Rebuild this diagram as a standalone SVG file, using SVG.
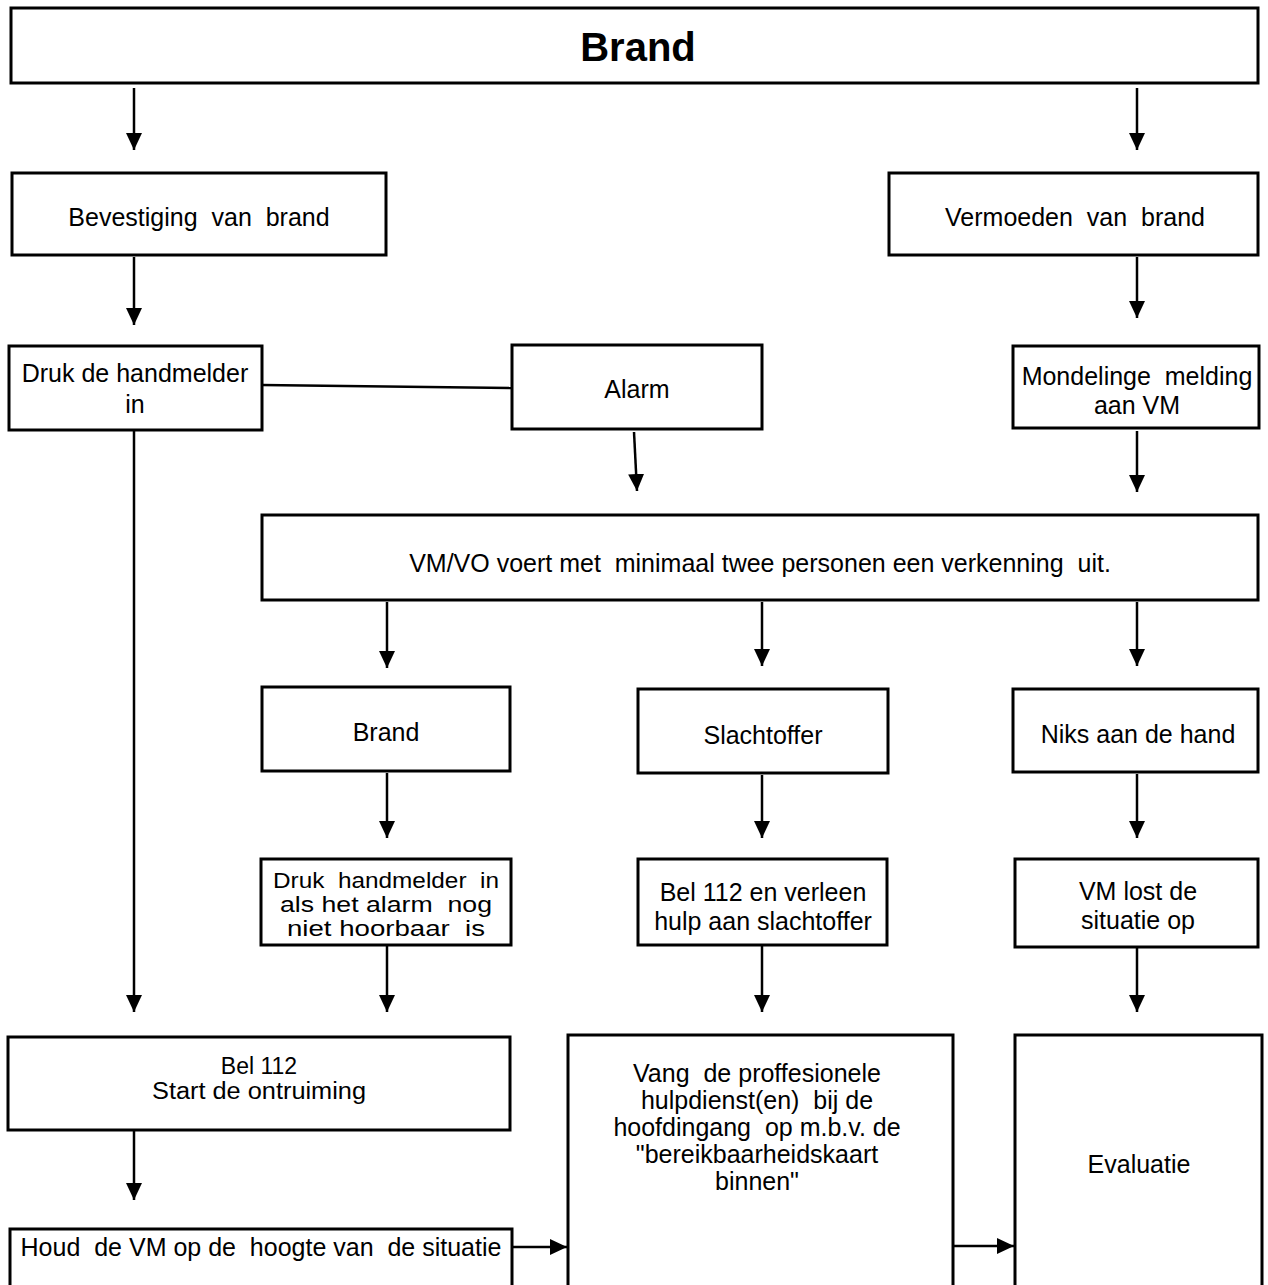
<svg xmlns="http://www.w3.org/2000/svg" width="1268" height="1285" viewBox="0 0 1268 1285">
<style>
.box{fill:#fff;stroke:#000;stroke-width:3}
.t{font-family:"Liberation Sans",Arial,sans-serif;font-size:25px;fill:#000;text-anchor:middle;white-space:pre}
.s{font-size:22px}
.m{font-size:23px}
.b{font-weight:bold;font-size:40px}
.c{stroke:#000;stroke-width:2.5;fill:none}
.a{marker-end:url(#ah)}
</style>
<defs>
<marker id="ah" markerUnits="userSpaceOnUse" markerWidth="17" markerHeight="16" refX="17" refY="8" orient="auto">
<path d="M0,0 L17,8 L0,16 z" fill="#000"/>
</marker>
</defs>
<rect width="1268" height="1285" fill="#fff"/>
<g id="connectors">
<line class="c a" x1="134" y1="88" x2="134" y2="150"/>
<line class="c a" x1="1137" y1="88" x2="1137" y2="150"/>
<line class="c a" x1="134" y1="257" x2="134" y2="325"/>
<line class="c a" x1="1137" y1="257" x2="1137" y2="318"/>
<line class="c" x1="262" y1="385" x2="512" y2="388"/>
<line class="c a" x1="634" y1="432" x2="637" y2="491"/>
<line class="c a" x1="1137" y1="431" x2="1137" y2="492"/>
<line class="c a" x1="134" y1="431" x2="134" y2="1012"/>
<line class="c a" x1="387" y1="602" x2="387" y2="668"/>
<line class="c a" x1="762" y1="602" x2="762" y2="666"/>
<line class="c a" x1="1137" y1="602" x2="1137" y2="666"/>
<line class="c a" x1="387" y1="773" x2="387" y2="838"/>
<line class="c a" x1="762" y1="775" x2="762" y2="838"/>
<line class="c a" x1="1137" y1="774" x2="1137" y2="838"/>
<line class="c a" x1="387" y1="946" x2="387" y2="1012"/>
<line class="c a" x1="762" y1="946" x2="762" y2="1012"/>
<line class="c a" x1="1137" y1="948" x2="1137" y2="1012"/>
<line class="c a" x1="134" y1="1131" x2="134" y2="1200"/>
<line class="c a" x1="512" y1="1247" x2="567" y2="1247"/>
<line class="c a" x1="953" y1="1246" x2="1014" y2="1246"/>
</g>
<g id="n-brand-top"><rect class="box" x="11" y="8" width="1247" height="75"/><text class="t b" x="638" y="61">Brand</text></g>
<g id="n-bevestiging"><rect class="box" x="12" y="173" width="374" height="82"/><text class="t" x="199" y="226">Bevestiging  van  brand</text></g>
<g id="n-vermoeden"><rect class="box" x="889" y="173" width="369" height="82"/><text class="t" x="1075" y="226">Vermoeden  van  brand</text></g>
<g id="n-druk"><rect class="box" x="9" y="346" width="253" height="84"/><text class="t" x="135" y="382">Druk de handmelder</text><text class="t" x="135" y="413">in</text></g>
<g id="n-alarm"><rect class="box" x="512" y="345" width="250" height="84"/><text class="t" x="637" y="398">Alarm</text></g>
<g id="n-mondeling"><rect class="box" x="1013" y="346" width="246" height="82"/><text class="t" x="1137" y="385">Mondelinge  melding</text><text class="t" x="1137" y="414">aan VM</text></g>
<g id="n-verkenning"><rect class="box" x="262" y="515" width="996" height="85"/><text class="t" x="760" y="572">VM/VO voert met  minimaal twee personen een verkenning  uit.</text></g>
<g id="n-brand"><rect class="box" x="262" y="687" width="248" height="84"/><text class="t" x="386" y="741">Brand</text></g>
<g id="n-slachtoffer"><rect class="box" x="638" y="689" width="250" height="84"/><text class="t" x="763" y="744">Slachtoffer</text></g>
<g id="n-niks"><rect class="box" x="1013" y="689" width="245" height="83"/><text class="t" x="1138" y="743">Niks aan de hand</text></g>
<g id="n-drukhm"><rect class="box" x="261" y="859" width="250" height="86"/><text class="t s" x="386" y="888" textLength="226" lengthAdjust="spacingAndGlyphs">Druk  handmelder  in</text><text class="t s" x="386" y="912" textLength="212" lengthAdjust="spacingAndGlyphs">als het alarm  nog</text><text class="t s" x="386" y="936" textLength="198" lengthAdjust="spacingAndGlyphs">niet hoorbaar  is</text></g>
<g id="n-bel112hulp"><rect class="box" x="638" y="859" width="249" height="86"/><text class="t" x="763" y="901">Bel 112 en verleen</text><text class="t" x="763" y="930">hulp aan slachtoffer</text></g>
<g id="n-vmlost"><rect class="box" x="1015" y="859" width="243" height="88"/><text class="t" x="1138" y="900">VM lost de</text><text class="t" x="1138" y="929">situatie op</text></g>
<g id="n-bel112start"><rect class="box" x="8" y="1037" width="502" height="93"/><text class="t m" x="259" y="1074">Bel 112</text><text class="t m" x="259" y="1099" textLength="214" lengthAdjust="spacingAndGlyphs">Start de ontruiming</text></g>
<g id="n-houd"><rect class="box" x="10" y="1229" width="502" height="70"/><text class="t" x="261" y="1256">Houd  de VM op de  hoogte van  de situatie</text></g>
<g id="n-vang"><rect class="box" x="568" y="1035" width="385" height="264"/><text class="t" x="757" y="1082">Vang  de proffesionele</text><text class="t" x="757" y="1109">hulpdienst(en)  bij de</text><text class="t" x="757" y="1136">hoofdingang  op m.b.v. de</text><text class="t" x="757" y="1163">"bereikbaarheidskaart</text><text class="t" x="757" y="1190">binnen"</text></g>
<g id="n-evaluatie"><rect class="box" x="1015" y="1035" width="247" height="264"/><text class="t" x="1139" y="1173">Evaluatie</text></g>
</svg>
